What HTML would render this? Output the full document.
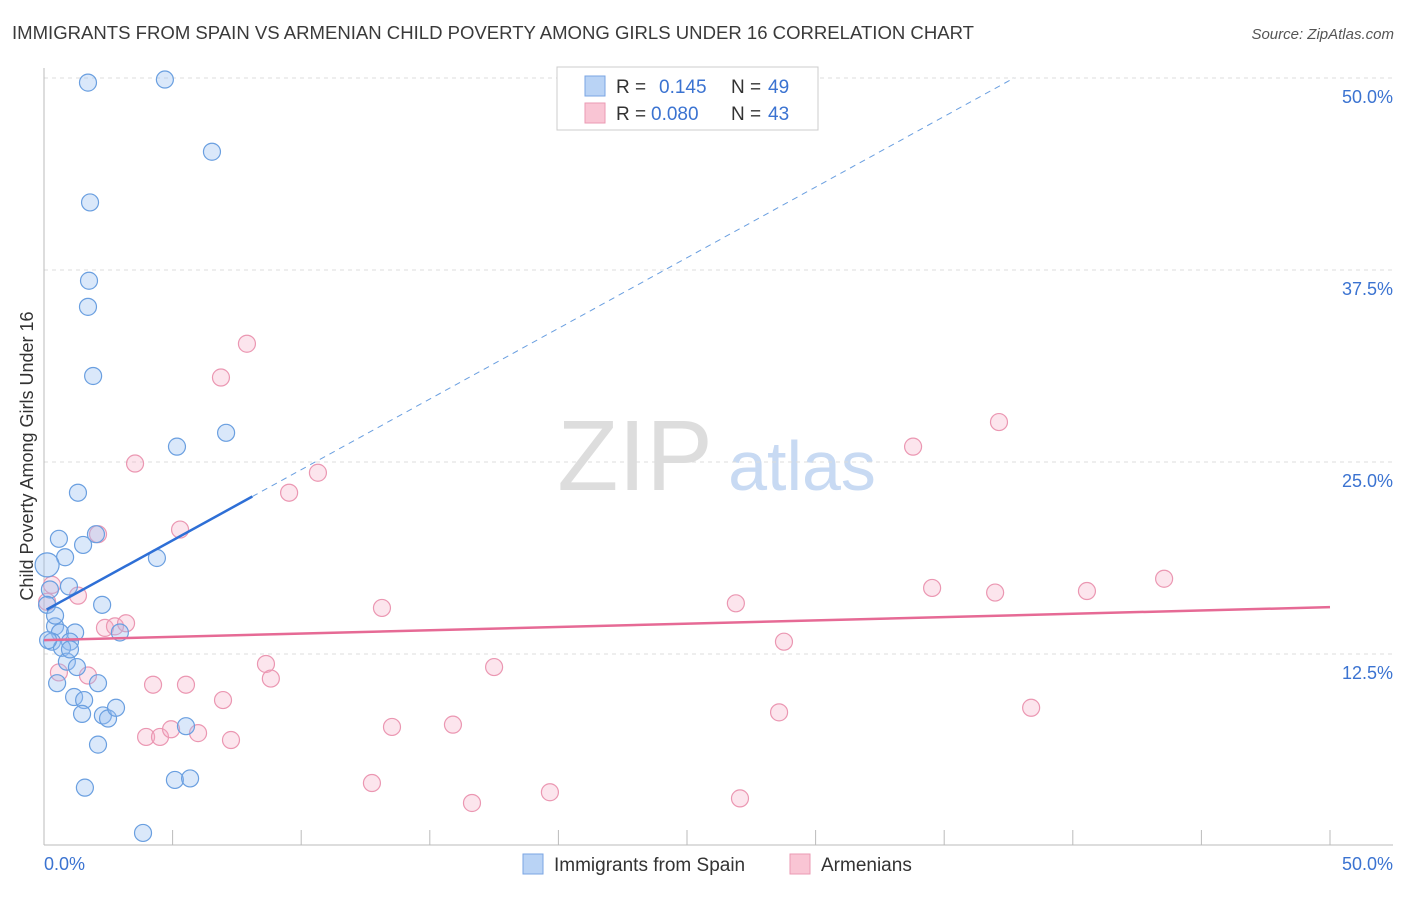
<!DOCTYPE html>
<html><head><meta charset="utf-8"><style>
body{margin:0;background:#fff;font-family:"Liberation Sans",sans-serif;}
svg text{font-family:"Liberation Sans",sans-serif;}
</style></head><body>
<svg id="chart" width="1406" height="892" xmlns="http://www.w3.org/2000/svg">
<text x="12" y="39" font-size="18" fill="#3a3a3a" textLength="962" lengthAdjust="spacingAndGlyphs">IMMIGRANTS FROM SPAIN VS ARMENIAN CHILD POVERTY AMONG GIRLS UNDER 16 CORRELATION CHART</text>
<text x="1394" y="39" font-size="15" fill="#555" text-anchor="end" font-style="italic">Source: ZipAtlas.com</text>
<g>
<text x="635" y="490" font-size="100" fill="#ddd" text-anchor="middle" font-family="Liberation Serif">ZIP</text>
<text x="802" y="490" font-size="70" fill="#c8daf3" text-anchor="middle">atlas</text>
</g>
<g id="grid"></g>
<g id="axes"></g>
<g id="pts"></g>
<g id="trend"></g>
<text transform="translate(33,456) rotate(-90)" font-size="18" fill="#333" text-anchor="middle">Child Poverty Among Girls Under 16</text>
<text x="44" y="870" font-size="18" fill="#3b73d1">0.0%</text>
<text x="1393" y="870" font-size="18" fill="#3b73d1" text-anchor="end">50.0%</text>
<g>
<rect x="557" y="67" width="261" height="63" fill="#fff" stroke="#ccc"/>
<rect x="585" y="76" width="20" height="20" fill="#b9d3f5" stroke="#7aa5e3"/>
<rect x="585" y="103" width="20" height="20" fill="#f9c5d4" stroke="#eb9ab3"/>
<text x="616" y="93" font-size="19" fill="#333">R = <tspan x="659" fill="#3b73d1">0.145</tspan><tspan x="731">N =</tspan><tspan x="768" fill="#3b73d1">49</tspan></text>
<text x="616" y="120" font-size="19" fill="#333">R = <tspan x="651" fill="#3b73d1">0.080</tspan><tspan x="731">N =</tspan><tspan x="768" fill="#3b73d1">43</tspan></text>
</g>
<g>
<rect x="523" y="854" width="20" height="20" fill="#b9d3f5" stroke="#7aa5e3"/>
<text x="554" y="871" font-size="19" fill="#333">Immigrants from Spain</text>
<rect x="790" y="854" width="20" height="20" fill="#f9c5d4" stroke="#eb9ab3"/>
<text x="821" y="871" font-size="19" fill="#333">Armenians</text>
</g>
</svg>
<script>
const yTicks=[12.5,25,37.5,50];
const yTickLabels=["12.5%","25.0%","37.5%","50.0%"];
const xTicks=[0,5,10,15,20,25,30,35,40,45,50];
const spainX=[1.71,4.70,6.53,1.79,1.75,1.71,1.91,5.17,7.08,1.32,2.02,0.58,1.52,0.82,4.39,0.12,0.97,0.23,0.12,2.26,0.43,0.62,1.21,2.95,0.31,1.01,0.70,0.89,1.28,0.51,2.10,1.17,1.56,1.48,2.29,2.49,2.80,5.52,2.10,1.59,5.09,5.68,3.85,0.16,1.01,0.43];
const spainY=[49.7,49.9,45.2,41.9,36.8,35.1,30.6,26.0,26.9,23.0,20.3,20.0,19.6,18.8,18.75,18.3,16.9,16.7,15.7,15.7,14.3,13.9,13.9,13.9,13.3,13.3,12.9,12.0,11.65,10.6,10.6,9.7,9.5,8.6,8.5,8.3,9.0,7.8,6.6,3.8,4.3,4.4,0.85,13.4,12.8,15.0];
const armX=[3.54,7.89,6.88,9.53,10.65,5.29,2.10,0.31,1.32,0.12,13.14,2.37,2.76,3.19,8.63,8.82,0.58,1.71,4.24,5.52,6.96,3.97,4.51,4.94,5.99,7.27,13.53,15.90,17.50,12.75,16.64,19.67,26.9,28.77,28.58,27.06,33.79,37.13,34.53,36.98,40.55,43.55,38.38];
const armY=[24.9,32.7,30.5,23.0,24.3,20.6,20.3,17.0,16.3,15.9,15.5,14.2,14.3,14.5,11.85,10.9,11.3,11.1,10.5,10.5,9.5,7.1,7.1,7.6,7.35,6.9,7.75,7.9,11.65,4.1,2.8,3.5,15.8,13.3,8.7,3.1,26.0,27.6,16.8,16.5,16.6,17.4,9.0];
const spainTrend=[15.3,0.92];
const armTrend=[13.4,0.043];
const NS="http://www.w3.org/2000/svg";
const X=v=>44+v*25.72, Y=v=>846-v*15.36;
function mk(tag,attrs,parent){const e=document.createElementNS(NS,tag);for(const k in attrs)e.setAttribute(k,attrs[k]);parent.appendChild(e);return e;}
const grid=document.getElementById('grid'),axes=document.getElementById('axes'),pts=document.getElementById('pts'),tr=document.getElementById('trend');
yTicks.forEach((t,i)=>{
 const l=mk('line',{x1:44,x2:1393,y1:Y(t),y2:Y(t),stroke:'#ddd','stroke-dasharray':'4,4'},grid);
 
 
 const tx=mk('text',{x:1393,y:Y(t)+25,'font-size':18,fill:'#3b73d1','text-anchor':'end'},grid);
 tx.textContent=yTickLabels[i];
 
 
});
const ax=mk('line',{x1:44,x2:1393,y1:845,y2:845,stroke:'#bbb'},axes);


const ay=mk('line',{x1:44,x2:44,y1:68,y2:845,stroke:'#bbb'},axes);


xTicks.forEach(t=>{const l=mk('line',{x1:X(t),x2:X(t),y1:830,y2:845,stroke:'#bbb'},axes);
 
 });
armX.forEach((x,i)=>{const c=mk('circle',{cx:X(x),cy:Y(armY[i]),r:8.5,fill:'rgba(245,170,195,0.3)',stroke:'#eb97b2','stroke-width':1.2},pts);
 
 });
spainX.forEach((x,i)=>{const c=mk('circle',{cx:X(x),cy:Y(spainY[i]),r:i==15?12:8.5,fill:'rgba(150,190,240,0.35)',stroke:'#6a9fe0','stroke-width':1.2},pts);
 
 });
const ySp=x=>spainTrend[0]+spainTrend[1]*x;
const xEnd=(50-spainTrend[0])/spainTrend[1];
const s1=mk('line',{x1:X(0.1),y1:Y(ySp(0.1)),x2:X(8.1),y2:Y(ySp(8.1)),stroke:'#2e6fd6','stroke-width':2.5},tr);


const s2=mk('line',{x1:X(8.1),y1:Y(ySp(8.1)),x2:X(xEnd),y2:Y(50),stroke:'#6a9fe0','stroke-width':1,'stroke-dasharray':'6,5'},tr);


const a1=mk('line',{x1:X(0),y1:Y(armTrend[0]),x2:X(50),y2:Y(armTrend[0]+armTrend[1]*50),stroke:'#e66a95','stroke-width':2.5},tr);


</script>
</body></html>
